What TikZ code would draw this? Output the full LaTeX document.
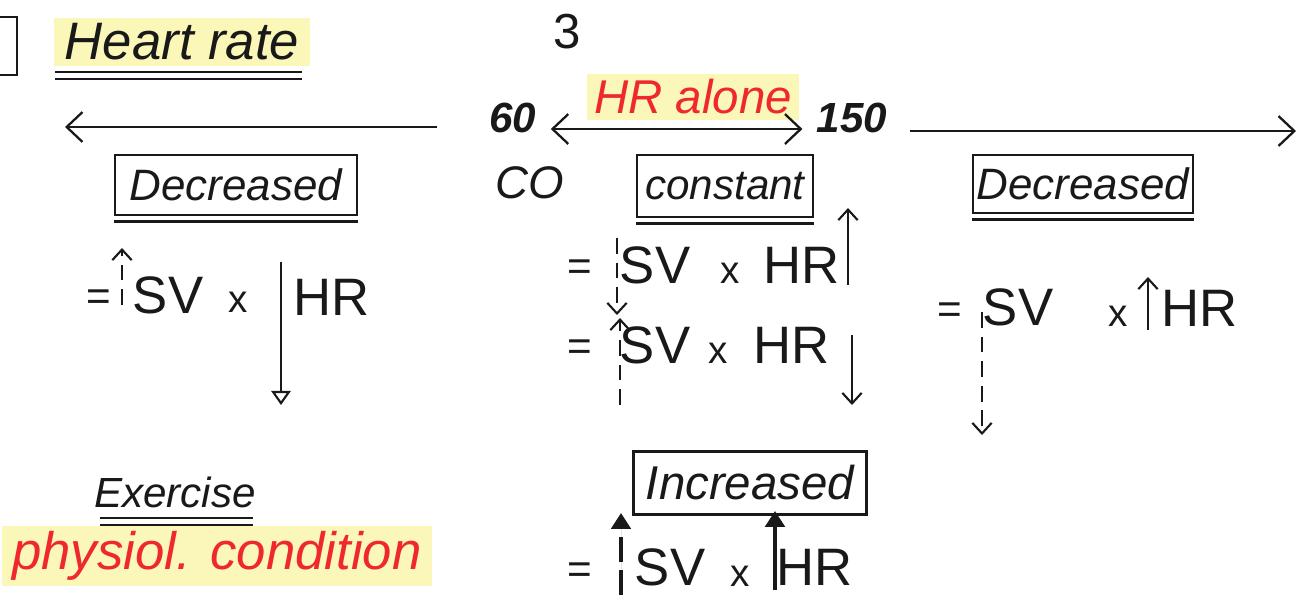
\documentclass[tikz,border=0pt]{standalone}
\usepackage{fontspec}
\setmainfont{Liberation Sans}
\usetikzlibrary{arrows.meta}
\definecolor{hlyellow}{RGB}{250,247,185}
\definecolor{penred}{RGB}{238,40,45}
\definecolor{ink}{RGB}{25,25,25}
\tikzset{
  txt/.style={inner sep=0pt, text=ink},
  word/.style={txt, font=\fontsize{#1}{#1}\selectfont\itshape},
  eqt/.style={txt, font=\fontsize{30}{30}\selectfont},
  eqs/.style={txt, font=\fontsize{24}{24}\selectfont},
  hl/.style={fill=hlyellow, inner xsep=4pt, inner ysep=3pt},
  statebox/.style={draw=ink, line width=1.2pt, inner sep=0pt},
  barb/.style={-{Straight Barb[length=9pt,width=17pt,line width=1.3pt]}},
  sbarb/.style={-{Straight Barb[length=6pt,width=11pt,line width=1.2pt]}},
  pen/.style={line width=1.4pt, draw=ink},
  dpen/.style={line width=1.3pt, draw=ink, dash pattern=on 9pt off 5pt},
  fathead/.style={-{Triangle[length=9pt,width=11pt]}},
}
\begin{document}
\begin{tikzpicture}[x=0.02cm,y=-0.02cm]
\useasboundingbox (0,0) rectangle (1303,600);
% partial box top left
\coordinate (pb1) at (0,17); \coordinate (pb2) at (17,17);
\coordinate (pb3) at (17,75); \coordinate (pb4) at (0,75);
\draw[pen] (pb1) -- (pb2) -- (pb3) -- (pb4);
% title
\node[word=30, hl, inner xsep=6pt] (title) at (182,42) {Heart rate};
\draw[pen] (55,72) -- (302,72);
\draw[pen] (55,79) -- (302,79);
% page number
\node[txt, font=\fontsize{28}{28}\selectfont] (pnum) at (567,32) {3};
% HR alone
\node[word=27, hl, text=penred] (alone) at (693,97) {HR alone};
\node[txt, font=\fontsize{24}{24}\selectfont\bfseries\itshape] (n60) at (513,118) {60};
\node[txt, font=\fontsize{24}{24}\selectfont\bfseries\itshape] (n150) at (852,118) {150};
\draw[pen, {Straight Barb[length=9pt,width=17pt,line width=1.3pt]}-{Straight Barb[length=9pt,width=17pt,line width=1.3pt]}] (n60.east) ++(14,11) coordinate (da) -- ([xshift=-8]n150.west |- da) coordinate (db);
\coordinate (lstart) at (437,127);
\coordinate (lend) at (65,127);
\draw[pen, barb] (lstart) -- (lend);
\coordinate (rstart) at (910,131);
\coordinate (rend) at (1296,131);
\draw[pen, barb] (rstart) -- (rend);
\node[word=26] (co) at (530,183) {CO};
% state boxes
\node[statebox, minimum width=4.84cm, minimum height=1.2cm] (bdecl) at (236,185) {};
\node[word=25] at (bdecl) {Decreased};
\draw[pen] ([yshift=-3]bdecl.south west) -- ([yshift=-3]bdecl.south east);
\node[statebox, minimum width=3.52cm, minimum height=1.24cm] (bconst) at (725,186) {};
\node[word=24] at (bconst) {constant};
\draw[pen] ([yshift=-3]bconst.south west) -- ([yshift=-3]bconst.south east);
\node[statebox, minimum width=4.4cm, minimum height=1.16cm] (bdecr) at (1083,184) {};
\node[word=25] at (bdecr) {Decreased};
\draw[pen] ([yshift=-3]bdecr.south west) -- ([yshift=-3]bdecr.south east);
\node[statebox, minimum width=4.66cm, minimum height=1.26cm] (binc) at (750,483) {};
\node[word=27] at (binc) {Increased};
% left equation
\node[eqs] (leq) at (99,300) {=};
\node[eqt] (lsv) at (168,295) {SV};
\node[eqt, font=\fontsize{22}{22}\selectfont] (lx) at (238,302) {x};
\node[eqt] (lhr) at (332,297) {HR};
\coordinate (la1) at (122,305); \coordinate (la2) at (122,248);
\draw[dpen, sbarb] (la1) -- (la2);
\coordinate (lb1) at (281,262); \coordinate (lb2) at (281,405);
\draw[pen, -{Triangle[open,length=8pt,width=11pt,line width=1.2pt]}] (lb1) -- (lb2);
% middle equation 1
\node[eqs] (m1eq) at (580,270) {=};
\node[eqt] (m1sv) at (655,265) {SV};
\node[eqt, font=\fontsize{22}{22}\selectfont] (m1x) at (730,273) {x};
\node[eqt] (m1hr) at (802,265) {HR};
\coordinate (ma1) at (617,238); \coordinate (ma2) at (617,315);
\draw[dpen, sbarb] (ma1) -- (ma2);
\coordinate (mb1) at (848,285); \coordinate (mb2) at (848,208);
\draw[pen, sbarb] (mb1) -- (mb2);
% middle equation 2
\node[eqs] (m2eq) at (580,350) {=};
\node[eqt] (m2sv) at (655,345) {SV};
\node[eqt, font=\fontsize{22}{22}\selectfont] (m2x) at (718,353) {x};
\node[eqt] (m2hr) at (792,345) {HR};
\coordinate (mc1) at (620,405); \coordinate (mc2) at (620,318);
\draw[dpen, sbarb] (mc1) -- (mc2);
\coordinate (md1) at (852,335); \coordinate (md2) at (852,405);
\draw[pen, sbarb] (md1) -- (md2);
% right equation
\node[eqs] (req) at (950,313) {=};
\node[eqt] (rsv) at (1018,307) {SV};
\node[eqt, font=\fontsize{22}{22}\selectfont] (rx) at (1118,316) {x};
\node[eqt] (rhr) at (1200,308) {HR};
\coordinate (ra1) at (982,312); \coordinate (ra2) at (982,435);
\draw[dpen, sbarb] (ra1) -- (ra2);
\coordinate (rb1) at (1148,330); \coordinate (rb2) at (1148,277);
\draw[pen, sbarb] (rb1) -- (rb2);
% exercise
\node[word=24] (ex) at (175,492) {Exercise};
\draw[pen] (100,518) -- (253,518);
\draw[pen] (100,525) -- (253,525);
\node[word=30, hl, text=penred, inner xsep=6pt] (phys) at (217,556) {physiol. condition};
% bottom equation
\node[eqs] (beq) at (580,573) {=};
\node[eqt] (bsv) at (670,567) {SV};
\node[eqt, font=\fontsize{22}{22}\selectfont] (bx) at (740,576) {x};
\node[eqt] (bhr) at (815,567) {HR};
\coordinate (ba1) at (621,595); \coordinate (ba2) at (621,513);
\draw[line width=2pt, draw=ink, dash pattern=on 14pt off 5pt, fathead, fill=ink] (ba1) -- (ba2);
\coordinate (bb1) at (775,590); \coordinate (bb2) at (775,511);
\draw[line width=2.2pt, draw=ink, fathead, fill=ink] (bb1) -- (bb2);
\end{tikzpicture}
\end{document}
